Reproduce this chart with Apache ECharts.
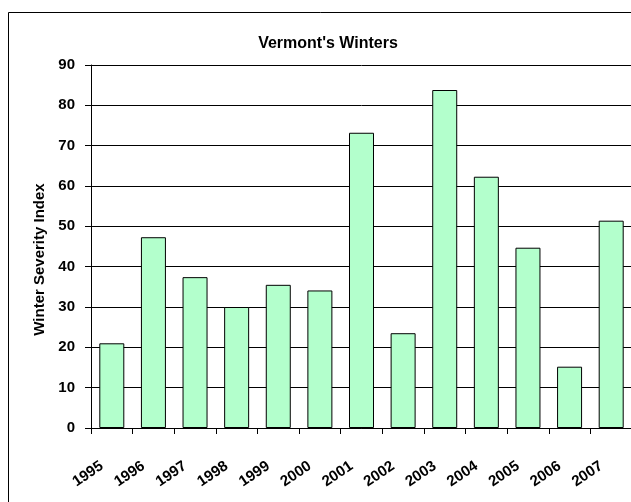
<!DOCTYPE html>
<html>
<head>
<meta charset="utf-8">
<script src="https://cdn.jsdelivr.net/npm/echarts@6/dist/echarts.min.js"></script>
<style>
html,body{margin:0;padding:0;background:#fff;}
#chart{width:631px;height:502px;}
</style>
</head>
<body>
<div id="chart"></div>
<script>
const years = ['1995','1996','1997','1998','1999','2000','2001','2002','2003','2004','2005','2006','2007'];
const severity = [21.0, 47.3, 37.4, 30.0, 35.5, 34.1, 73.2, 23.5, 83.8, 62.3, 44.7, 15.2, 51.4];
const yTicks = { min: 0, max: 90, interval: 10 };
const titleText = "Vermont's Winters";
const yName = 'Winter Severity Index';

const FONT = '"Liberation Sans", Arial, sans-serif';
const chart = echarts.init(document.getElementById('chart'), null, { renderer: 'canvas' });
chart.setOption({
  animation: false,
  backgroundColor: '#fff',
  title: {
    text: titleText,
    left: 323,
    top: 31,
    textAlign: 'center',
    textStyle: { fontFamily: FONT, fontWeight: 'bold', fontSize: 16, color: '#000' }
  },
  graphic: [{
    type: 'rect',
    shape: { x: 8.5, y: 12.5, width: 700, height: 600 },
    style: { fill: 'none', stroke: '#000', lineWidth: 1 },
    silent: true
  }],
  grid: { left: 91, top: 65, width: 541, height: 363, outerBoundsMode: 'none', containLabel: false },
  xAxis: {
    type: 'category',
    data: years,
    axisLine: { show: true, lineStyle: { color: '#000', width: 1 } },
    axisTick: { show: true, length: 6, lineStyle: { color: '#000' } },
    axisLabel: {
      rotate: 34, margin: 30, interval: 0,
      fontFamily: FONT, fontWeight: 'bold', fontSize: 15, color: '#000',
      padding: [0, 12, 0, 0]
    },
    splitLine: { show: false }
  },
  yAxis: {
    type: 'value',
    min: yTicks.min, max: yTicks.max, interval: yTicks.interval,
    name: yName,
    nameLocation: 'middle',
    nameRotate: 90,
    nameGap: 38,
    nameTextStyle: { fontFamily: FONT, fontWeight: 'bold', fontSize: 15, color: '#000', padding: [0, 26, 0, 0] },
    axisLine: { show: true, lineStyle: { color: '#000', width: 1 } },
    axisTick: { show: true, length: 6, lineStyle: { color: '#000' } },
    axisLabel: { margin: 16, fontFamily: FONT, fontWeight: 'bold', fontSize: 15, color: '#000' },
    splitLine: { show: true, lineStyle: { color: '#000', width: 1 } }
  },
  series: [{
    type: 'bar',
    data: severity,
    barWidth: 25,
    itemStyle: { color: '#b3ffcc', borderColor: '#000', borderWidth: 1 }
  }]
});
</script>
</body>
</html>
